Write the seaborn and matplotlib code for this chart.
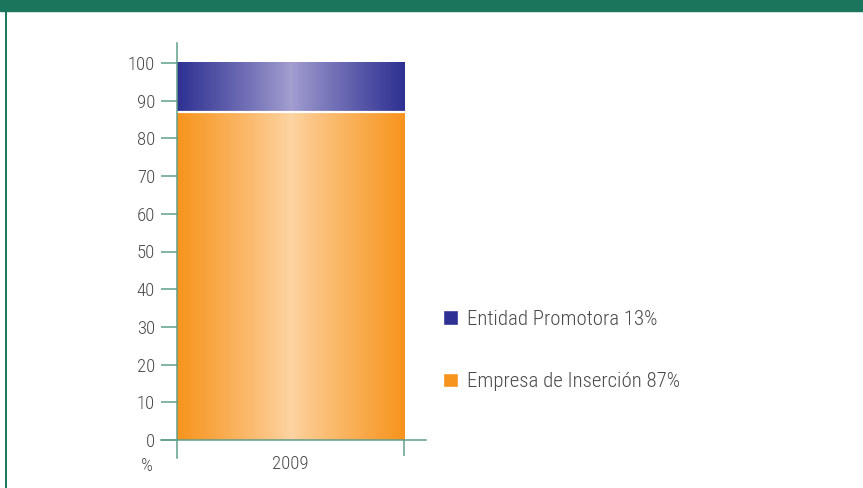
import numpy as np
import matplotlib
matplotlib.use("Agg")
import matplotlib.pyplot as plt
import seaborn as sns
from matplotlib.colors import to_rgb
from matplotlib.patches import Patch, Rectangle
from matplotlib.lines import Line2D

# Data
years = ["2009"]
series = ["Empresa de Inserción", "Entidad Promotora"]
empresa = [87]
entidad = [13]

# Styles
edge_colors = ["#f7941d", "#2e3192"]     # saturated bar edges
center_colors = ["#fdd4a3", "#a49fd1"]   # light bar centres
green = "#1a755c"
axis_green = "#5f9f8a"
text_gray = "#4a4a4a"

sns.set_theme(style="white")
plt.rcParams["font.family"] = ["Roboto Condensed", "DejaVu Sans"]
plt.rcParams["font.weight"] = 300
plt.rcParams["text.color"] = text_gray

W, H = 863, 488
fig = plt.figure(figsize=(W / 100, H / 100), dpi=100)

px_per_unit_y = 3.77
y_lo = -(458 - 440) / px_per_unit_y
y_hi = (440 - 43) / px_per_unit_y
bar_w = 0.8
px_per_unit_x = 227 / bar_w
x_lo = -bar_w / 2 - 16 / px_per_unit_x
x_hi = bar_w / 2 + 22 / px_per_unit_x

ax = fig.add_axes([161 / W, (H - 458) / H, (426 - 161) / W, (458 - 43) / H])

# Stacked bars: total height first, lower segment on top of it
totals = [a + b for a, b in zip(empresa, entidad)]
sns.barplot(x=years, y=totals, color=edge_colors[1], saturation=1,
            width=bar_w, linewidth=0, ax=ax)
sns.barplot(x=years, y=empresa, color=edge_colors[0], saturation=1,
            width=bar_w, linewidth=0, ax=ax)


def gradient(c_edge, c_mid, n=256):
    t = np.abs(np.linspace(-1, 1, n)) ** 0.9
    e = np.array(to_rgb(c_edge))
    m = np.array(to_rgb(c_mid))
    rgb = m[None, :] * (1 - t[:, None]) + e[None, :] * t[:, None]
    return rgb[None, :, :]


low_patch = ax.patches[1]
x0 = low_patch.get_x()
x1 = x0 + low_patch.get_width()
segments = [(0, empresa[0]), (empresa[0], totals[0])]
for (b, t), ce, cm in zip(segments, edge_colors, center_colors):
    ax.imshow(gradient(ce, cm), extent=(x0, x1, b, t), aspect="auto",
              interpolation="bilinear", zorder=3)
ax.plot([x0, x1 + 0.005], [empresa[0], empresa[0]], color="white", lw=1.6,
        zorder=4, solid_capstyle="butt")

ax.set_xlim(x_lo, x_hi)
ax.set_ylim(y_lo, y_hi)

for s in ["top", "right"]:
    ax.spines[s].set_visible(False)
ax.spines["left"].set_position(("data", -bar_w / 2))
ax.spines["bottom"].set_position(("data", 0))
for s in ["left", "bottom"]:
    ax.spines[s].set_color(axis_green)
    ax.spines[s].set_linewidth(1.1)
    ax.spines[s].set_zorder(5)

ax.set_yticks(range(0, 101, 10))
ax.tick_params(axis="y", direction="out", length=11.5, width=1.1,
               color=axis_green, labelsize=13.5, labelcolor=text_gray, pad=4.3,
               left=True)
ax.set_xticks([0])
ax.set_xticklabels(years)
ax.set_xticks([bar_w / 2], minor=True)
ax.tick_params(axis="x", which="major", length=0, pad=10.5, labelsize=13.5,
               labelcolor=text_gray, bottom=True)
ax.tick_params(axis="x", which="minor", direction="out", length=11.5,
               width=1.1, color=axis_green, bottom=True)
ax.set_xlabel("")
ax.set_ylabel("")
ax.grid(False)

fig.text(147 / W, 1 - 466 / H, "%", ha="center", va="center", fontsize=13.5,
         color=text_gray)

# Legend
handles = [
    Patch(facecolor=edge_colors[1], label=f"{series[1]} {entidad[0]}%"),
    Patch(facecolor=edge_colors[0], label=f"{series[0]} {empresa[0]}%"),
]
fig.legend(handles=handles, loc="center left",
           bbox_to_anchor=(443 / W, 1 - 350.5 / H), frameon=False,
           borderpad=0, borderaxespad=0, handlelength=0.7, handleheight=0.7,
           handletextpad=0.45, labelspacing=2.1, fontsize=15,
           labelcolor=text_gray)

# Frame decoration
fig.add_artist(Rectangle((0, 1 - 11 / H), 1, 11 / H, transform=fig.transFigure,
                         color=green, zorder=10))
fig.add_artist(Line2D([5.5 / W, 5.5 / W], [0, 1 - 11 / H],
                      transform=fig.transFigure, color=green, lw=1.4))

fig.savefig("out.png", dpi=100)
